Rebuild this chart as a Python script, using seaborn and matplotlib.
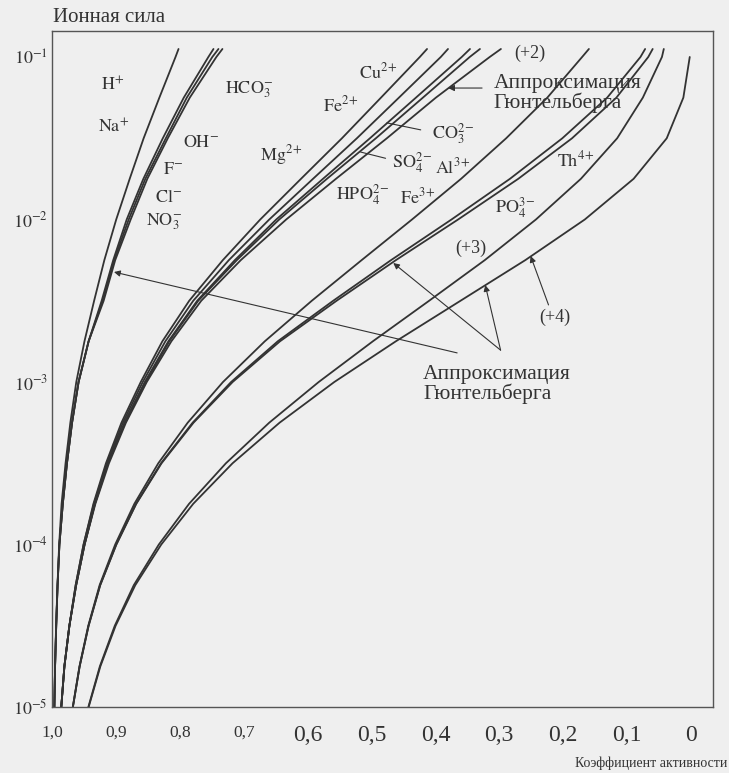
import matplotlib
matplotlib.use("Agg")
import matplotlib.pyplot as plt
from matplotlib.ticker import NullLocator
import pandas as pd
import seaborn as sns

ionic_strength = [1e-5, 1.78e-5, 3.16e-5, 5.62e-5, 1e-4, 1.78e-4, 3.16e-4, 5.62e-4, 1e-3,
                  1.78e-3, 3.16e-3, 5.62e-3, 1e-2, 1.78e-2, 3.16e-2, 5.62e-2, 1e-1, 1.12e-1]

# activity coefficients, singly charged ions
h_plus = [0.9964, 0.9952, 0.9936, 0.9914, 0.9888, 0.9850, 0.9788, 0.9713, 0.9620,
          0.9492, 0.9341, 0.9181, 0.8995, 0.8784, 0.8566, 0.8320, 0.8067, 0.8020]
na_plus = [0.9963, 0.9952, 0.9934, 0.9913, 0.9884, 0.9831, 0.9766, 0.9686, 0.9584,
           0.9427, 0.9223, 0.9042, 0.8831, 0.8570, 0.8266, 0.7938, 0.7553, 0.7473]
cl_minus = [0.9963, 0.9952, 0.9934, 0.9913, 0.9884, 0.9831, 0.9766, 0.9686, 0.9584,
            0.9427, 0.9208, 0.9027, 0.8800, 0.8539, 0.8219, 0.7891, 0.7491, 0.7395]
guntelberg_1 = [0.9963, 0.9952, 0.9934, 0.9913, 0.9884, 0.9831, 0.9766, 0.9686, 0.9584,
                0.9427, 0.9192, 0.9011, 0.8769, 0.8508, 0.8188, 0.7844, 0.7428, 0.7333]

# doubly charged
mg_2 = [0.9855, 0.9806, 0.9728, 0.9630, 0.9506, 0.9352, 0.9156, 0.8913, 0.8611,
        0.8273, 0.7853, 0.7327, 0.6741, 0.6103, 0.5463, 0.4852, 0.4244, 0.4131]
cu_2 = [0.9855, 0.9806, 0.9728, 0.9630, 0.9506, 0.9344, 0.9140, 0.8890, 0.8580,
        0.8226, 0.7790, 0.7233, 0.6600, 0.5915, 0.5229, 0.4571, 0.3916, 0.3803]
co3_2 = [0.9855, 0.9806, 0.9728, 0.9622, 0.9490, 0.9329, 0.9125, 0.8866, 0.8548,
         0.8179, 0.7728, 0.7139, 0.6491, 0.5759, 0.5025, 0.4305, 0.3588, 0.3459]
so4_2 = [0.9855, 0.9806, 0.9728, 0.9622, 0.9490, 0.9329, 0.9125, 0.8858, 0.8533,
         0.8164, 0.7712, 0.7108, 0.6444, 0.5697, 0.4932, 0.4196, 0.3463, 0.3303]
guntelberg_2 = [0.9855, 0.9806, 0.9728, 0.9622, 0.9490, 0.9321, 0.9109, 0.8843, 0.8517,
                0.8132, 0.7665, 0.7046, 0.6335, 0.5556, 0.4760, 0.3993, 0.3150, 0.2975]

# triply charged
al_3 = [0.9675, 0.9570, 0.9433, 0.9255, 0.9011, 0.8711, 0.8337, 0.7876, 0.7324,
        0.6670, 0.5935, 0.5155, 0.4366, 0.3598, 0.2893, 0.2249, 0.1704, 0.1598]
po4_3 = [0.9673, 0.9567, 0.9428, 0.9247, 0.8995, 0.8686, 0.8295, 0.7799, 0.7197,
         0.6467, 0.5600, 0.4695, 0.3748, 0.2833, 0.2014, 0.1312, 0.0791, 0.0718]
guntelberg_3 = [0.9673, 0.9567, 0.9427, 0.9245, 0.8992, 0.8681, 0.8286, 0.7785, 0.7173,
                0.6432, 0.5547, 0.4619, 0.3645, 0.2703, 0.1862, 0.1168, 0.0669, 0.0600]

# quadruply charged
th_4 = [0.9431, 0.9251, 0.9018, 0.8720, 0.8328, 0.7855, 0.7279, 0.6600, 0.5826,
        0.4979, 0.4099, 0.3228, 0.2427, 0.1723, 0.1156, 0.0754, 0.0455, 0.0426]
guntelberg_4 = [0.9426, 0.9243, 0.9005, 0.8697, 0.8290, 0.7790, 0.7175, 0.6438, 0.5582,
                0.4619, 0.3608, 0.2594, 0.1662, 0.0898, 0.0380, 0.0120, 0.0020, None]

x_ticks = [1.0, 0.9, 0.8, 0.7, 0.6, 0.5, 0.4, 0.3, 0.2, 0.1, 0.0]
x_tick_labels = ["1,0", "0,9", "0,8", "0,7", "0,6", "0,5", "0,4", "0,3", "0,2", "0,1", "0"]
y_ticks = [1e-5, 1e-4, 1e-3, 1e-2, 1e-1]
y_tick_labels = [r"$10^{-5}$", r"$10^{-4}$", r"$10^{-3}$", r"$10^{-2}$", r"$10^{-1}$"]

curves = [("H+", h_plus), ("Na+", na_plus), ("Cl-", cl_minus), ("G1", guntelberg_1),
          ("Mg2+", mg_2), ("Cu2+", cu_2), ("CO3", co3_2), ("SO4", so4_2), ("G2", guntelberg_2),
          ("Al3+", al_3), ("PO4", po4_3), ("G3", guntelberg_3),
          ("Th4+", th_4), ("G4", guntelberg_4)]

rows = []
for name, gammas in curves:
    for g, i in zip(gammas, ionic_strength):
        if g is not None:
            rows.append({"curve": name, "gamma": g, "ionic": i})
df = pd.DataFrame(rows)

sns.set_theme(style="white")
plt.rcParams["font.family"] = ["Liberation Serif", "DejaVu Serif"]
plt.rcParams["mathtext.fontset"] = "stix"

bg = "#efefef"
ink = "#333333"

fig = plt.figure(figsize=(7.29, 7.73), dpi=100, facecolor=bg)
ax = fig.add_axes([52 / 729, 66 / 773, 661 / 729, 676 / 773])
ax.set_facecolor(bg)

sns.lineplot(data=df, x="gamma", y="ionic", units="curve", estimator=None, sort=False,
             color=ink, linewidth=1.3, legend=False, ax=ax)

ax.set_yscale("log")
ax.set_xlim(0.9984, -0.0344)
ax.set_ylim(1e-5, 0.1445)
ax.set_xlabel("")
ax.set_ylabel("")
ax.set_yticks(y_ticks)
ax.set_yticklabels(y_tick_labels, fontsize=13, color=ink)
ax.yaxis.set_minor_locator(NullLocator())
ax.set_xticks(x_ticks)
ax.set_xticklabels(x_tick_labels, color=ink)
for k, lab in enumerate(ax.get_xticklabels()):
    lab.set_fontsize(12.5 if k < 4 else 17)
ax.tick_params(axis="both", length=0)
ax.tick_params(axis="x", pad=13)
ax.tick_params(axis="y", pad=3)
for s in ax.spines.values():
    s.set_color("#555555")
    s.set_linewidth(1.0)

# ion labels
labels = [
    (r"$\mathrm{H^{+}}$", 0.905, 0.0673),
    (r"$\mathrm{Na^{+}}$", 0.903, 0.0371),
    (r"$\mathrm{HCO_3^{-}}$", 0.691, 0.0627),
    (r"$\mathrm{OH^{-}}$", 0.767, 0.0296),
    (r"$\mathrm{F^{-}}$", 0.811, 0.0202),
    (r"$\mathrm{Cl^{-}}$", 0.817, 0.0137),
    (r"$\mathrm{NO_3^{-}}$", 0.825, 0.0097),
    (r"$\mathrm{Cu^{2}{}^{+}}$", 0.489, 0.0809),
    (r"$\mathrm{Fe^{2}{}^{+}}$", 0.548, 0.0507),
    (r"$\mathrm{Mg^{2}{}^{+}}$", 0.641, 0.0249),
    (r"$\mathrm{CO_3^{2}{}^{-}}$", 0.372, 0.0340),
    (r"$\mathrm{SO_4^{2}{}^{-}}$", 0.436, 0.0223),
    (r"$\mathrm{Al^{3}{}^{+}}$", 0.372, 0.0208),
    (r"$\mathrm{HPO_4^{2}{}^{-}}$", 0.514, 0.0142),
    (r"$\mathrm{Fe^{3}{}^{+}}$", 0.427, 0.0136),
    (r"$\mathrm{Th^{4}{}^{+}}$", 0.181, 0.0232),
    (r"$\mathrm{PO_4^{3}{}^{-}}$", 0.275, 0.0119),
    ("(+2)", 0.252, 0.1059),
    ("(+3)", 0.345, 0.00668),
    ("(+4)", 0.2125, 0.00251),
]
for text, gx, iy in labels:
    ax.text(gx, iy, text, ha="center", va="center", fontsize=13, color=ink)

approx = "Аппроксимация\nГюнтельберга"
ax.text(0.309, 0.0596, approx, ha="left", va="center", fontsize=15.5, color=ink, linespacing=1.0)
ax.text(0.419, 0.000966, approx, ha="left", va="center", fontsize=15.5, color=ink, linespacing=1.0)

arrow = dict(arrowstyle="-|>", color=ink, lw=0.8, mutation_scale=9, shrinkA=0, shrinkB=0)
plain = dict(arrowstyle="-", color=ink, lw=0.8, shrinkA=0, shrinkB=0)
ax.annotate("", xy=(0.380, 0.0644), xytext=(0.327, 0.0644), arrowprops=arrow)
ax.annotate("", xy=(0.903, 0.00475), xytext=(0.366, 0.00151), arrowprops=arrow)
ax.annotate("", xy=(0.466, 0.0054), xytext=(0.298, 0.00157), arrowprops=arrow)
ax.annotate("", xy=(0.322, 0.00395), xytext=(0.298, 0.00157), arrowprops=arrow)
ax.annotate("", xy=(0.251, 0.00596), xytext=(0.223, 0.00298), arrowprops=arrow)
ax.annotate("", xy=(0.476, 0.0393), xytext=(0.423, 0.0356), arrowprops=plain)
ax.annotate("", xy=(0.517, 0.0260), xytext=(0.478, 0.0238), arrowprops=plain)

fig.text(53 / 729, 1 - 17 / 773, "Ионная сила", ha="left", va="center", fontsize=15, color=ink)
fig.text(727 / 729, 1 - 763 / 773, "Коэффициент активности", ha="right", va="center",
         fontsize=10, color=ink)

fig.savefig("out.png", dpi=100, facecolor=bg)
